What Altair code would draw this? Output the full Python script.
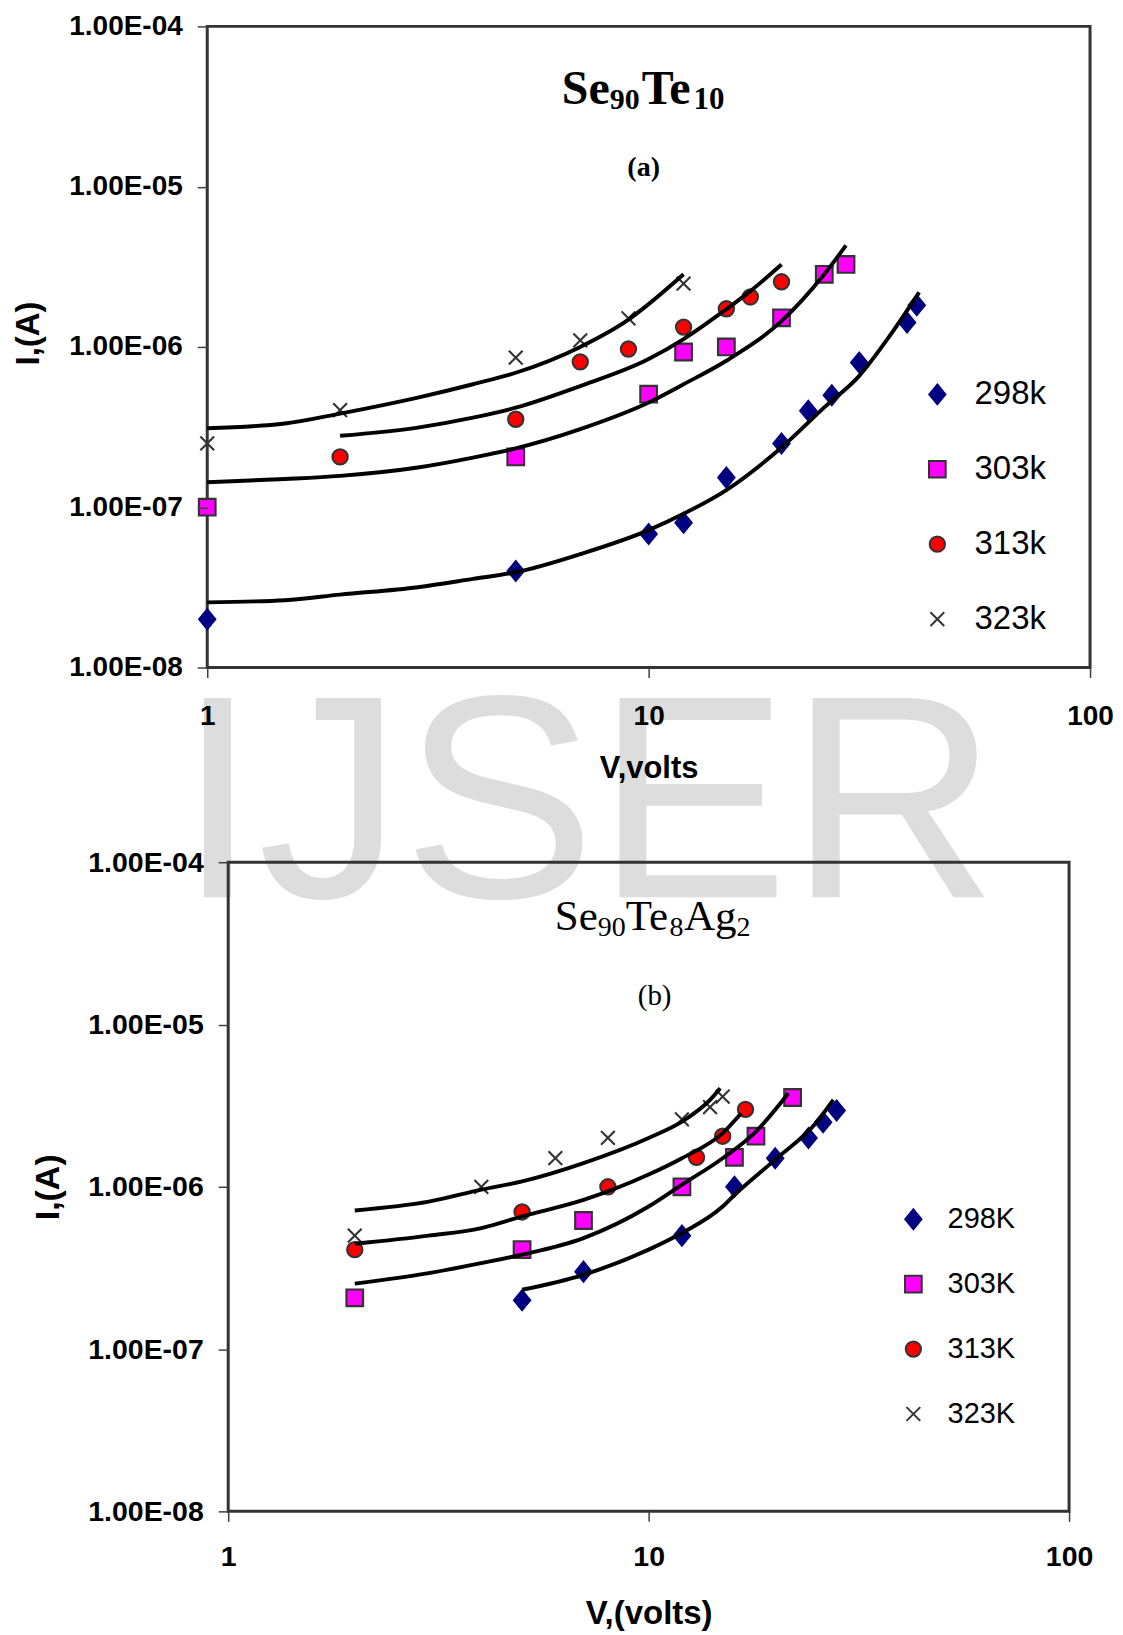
import altair as alt
import pandas as pd

# ---------------- panel (a): Se90Te10 ----------------
A_SERIES = ["298k", "303k", "313k", "323k"]

A_P298_V = [1, 5, 10, 12, 15, 20, 23, 26, 30, 38.5, 40.5]
A_P298_I = [2.0e-8, 4.0e-8, 6.8e-8, 8.0e-8, 1.53e-7, 2.5e-7, 4.0e-7, 5.0e-7, 8.0e-7, 1.42e-6, 1.82e-6]
A_P303_V = [1, 5, 10, 12, 15, 20, 25, 28]
A_P303_I = [1.0e-7, 2.06e-7, 5.07e-7, 9.3e-7, 1.0e-6, 1.52e-6, 2.84e-6, 3.27e-6]
A_P313_V = [2, 5, 7, 9, 12, 15, 17, 20]
A_P313_I = [2.06e-7, 3.54e-7, 8.07e-7, 9.7e-7, 1.33e-6, 1.73e-6, 2.05e-6, 2.55e-6]
A_P323_V = [1, 2, 5, 7, 9, 12]
A_P323_I = [2.5e-7, 4.03e-7, 8.58e-7, 1.1e-6, 1.51e-6, 2.48e-6]

A_L298_V = [1, 1.5, 2, 3, 4, 5, 7, 10, 12, 15, 20, 25, 30, 35, 41]
A_L298_I = [2.55e-8, 2.63e-8, 2.85e-8, 3.17e-8, 3.57e-8, 3.93e-8, 5.1e-8, 7.2e-8, 9.1e-8,
            1.28e-7, 2.36e-7, 4.2e-7, 6.6e-7, 1.15e-6, 2.19e-6]
A_L303_V = [1, 1.5, 2, 3, 4, 5, 7, 10, 12, 15, 20, 25, 28]
A_L303_I = [1.43e-7, 1.5e-7, 1.57e-7, 1.77e-7, 2.04e-7, 2.33e-7, 3.07e-7, 4.5e-7, 5.85e-7,
            8.2e-7, 1.45e-6, 2.84e-6, 4.3e-6]
A_L313_V = [2, 3, 4, 5, 7, 10, 12, 15, 17, 20]
A_L313_I = [2.79e-7, 3.14e-7, 3.62e-7, 4.18e-7, 5.7e-7, 8.4e-7, 1.12e-6, 1.72e-6, 2.23e-6, 3.27e-6]
A_L323_V = [1, 1.5, 2, 3, 4, 5, 7, 9, 10, 12]
A_L323_I = [3.11e-7, 3.33e-7, 3.84e-7, 4.83e-7, 5.85e-7, 6.9e-7, 1.0e-6, 1.48e-6, 1.85e-6, 2.84e-6]

# ---------------- panel (b): Se90Te8Ag2 ----------------
B_SERIES = ["298K", "303K", "313K", "323K"]

B_P298_V = [5, 7, 12, 16, 20, 24, 26, 28]
B_P298_I = [2.0e-7, 3.0e-7, 5.0e-7, 1.0e-6, 1.5e-6, 2.0e-6, 2.5e-6, 2.95e-6]
B_P303_V = [2, 5, 7, 12, 16, 18, 22]
B_P303_I = [2.07e-7, 4.1e-7, 6.2e-7, 1.0e-6, 1.52e-6, 2.05e-6, 3.55e-6]
B_P313_V = [2, 5, 8, 13, 15, 17]
B_P313_I = [4.1e-7, 7.0e-7, 1.0e-6, 1.52e-6, 2.05e-6, 3.0e-6]
B_P323_V = [2, 4, 6, 8, 12, 14, 15]
B_P323_I = [5.0e-7, 1.0e-6, 1.5e-6, 2.0e-6, 2.6e-6, 3.1e-6, 3.6e-6]

B_L298_V = [5, 7, 10, 12, 15, 16, 20, 25, 27.5]
B_L298_I = [2.32e-7, 2.87e-7, 4.1e-7, 5.19e-7, 7.56e-7, 8.9e-7, 1.47e-6, 2.47e-6, 3.43e-6]
B_L303_V = [2, 3, 4, 5, 7, 10, 12, 15, 18, 21.5]
B_L303_I = [2.53e-7, 2.94e-7, 3.39e-7, 3.82e-7, 4.83e-7, 7.56e-7, 1.03e-6, 1.5e-6, 2.19e-6, 3.77e-6]
B_L313_V = [2, 3, 4, 5, 7, 10, 12, 15, 16.6]
B_L313_I = [4.46e-7, 5.0e-7, 5.57e-7, 6.57e-7, 8.3e-7, 1.19e-6, 1.5e-6, 2.14e-6, 2.84e-6]
B_L323_V = [2, 3, 4, 5, 7, 10, 12, 14, 14.8]
B_L323_I = [7.15e-7, 8.1e-7, 9.6e-7, 1.08e-6, 1.4e-6, 2.0e-6, 2.52e-6, 3.43e-6, 4.05e-6]

# axis ticks
X_TICKS = [1, 10, 100]
Y_TICKS = [1e-8, 1e-7, 1e-6, 1e-5, 1e-4]

# marker styles (per series order)
SHAPES = ["M0,-1.1L0.9,0L0,1.1L-0.9,0Z", "square", "circle", "M-1,-1L1,1M-1,1L1,-1"]
FILLS = ["#000080", "#FF00FF", "#FF0000", "transparent"]
STROKES = ["#000080", "#333333", "#333333", "#333333"]
SIZES = [324, 190, 200, 324]

SANS = "Liberation Sans"
SERIF = "Liberation Serif"


def to_frame(names, vlists, ilists):
    rows = []
    for n, vs, cs in zip(names, vlists, ilists):
        rows += [{"series": n, "V": v, "I": c} for v, c in zip(vs, cs)]
    return pd.DataFrame(rows)


def text_piece(text, size, x, y, weight="normal", font=SERIF, color="black", align="left"):
    return alt.Chart(alt.Data(values=[{}])).mark_text(
        text=text, font=font, fontSize=size, fontWeight=weight, color=color,
        align=align, baseline="alphabetic"
    ).encode(x=alt.value(x), y=alt.value(y))


def panel(pts, lines, names, width, height, xcfg, ycfg, legcfg, extra_back, extra_front):
    xaxis = alt.Axis(values=X_TICKS, format="d", labelFlush=False, labelFont=SANS,
                     labelFontWeight="bold", labelFontSize=xcfg["lab"], labelColor="black",
                     labelPadding=xcfg["labpad"], tickSize=10, tickColor="#404040", tickWidth=1.5,
                     domain=False, grid=False, title=xcfg["title"], titleFont=SANS,
                     titleFontSize=xcfg["tit"], titleFontWeight="bold", titleColor="black",
                     titlePadding=xcfg["titpad"], zindex=1)
    ykw = dict(values=Y_TICKS,
               labelExpr="upper(replace(format(datum.value, '.2e'), '-', '-0'))",
               labelFlush=False, labelFont=SANS, labelFontWeight="bold",
               labelFontSize=ycfg["lab"], labelColor="black", labelPadding=15,
               tickSize=10, tickColor="#404040", tickWidth=1.5, domain=False, grid=False,
               title=ycfg["title"], titleFont=SANS, titleFontSize=ycfg["tit"],
               titleFontWeight="bold", titleColor="black", titlePadding=ycfg["titpad"], zindex=1)
    if "titleY" in ycfg:
        ykw["titleY"] = ycfg["titleY"]
    yaxis = alt.Axis(**ykw)

    xs = alt.Scale(type="log", domain=[1, 100], nice=False)
    ys = alt.Scale(type="log", domain=[1e-8, 1e-4], nice=False)

    leg = alt.Legend(title=None, orient="none", legendX=legcfg["x"], legendY=legcfg["y"],
                     labelFont=SANS, labelFontSize=legcfg["font"], labelColor="black",
                     labelOffset=legcfg["laboff"], rowPadding=legcfg["rowpad"], padding=0,
                     symbolStrokeWidth=2, symbolOpacity=1)

    points = alt.Chart(pts).mark_point(filled=True, opacity=1, strokeWidth=2.1).encode(
        x=alt.X("V:Q", scale=xs, axis=xaxis),
        y=alt.Y("I:Q", scale=ys, axis=yaxis),
        shape=alt.Shape("series:N", scale=alt.Scale(domain=names, range=SHAPES), legend=leg),
        fill=alt.Fill("series:N", scale=alt.Scale(domain=names, range=FILLS), legend=leg),
        stroke=alt.Stroke("series:N", scale=alt.Scale(domain=names, range=STROKES), legend=leg),
        size=alt.Size("series:N", scale=alt.Scale(domain=names, range=SIZES), legend=leg),
    )
    curve = alt.Chart(lines).mark_line(color="black", strokeWidth=3.9, interpolate="monotone").encode(
        x=alt.X("V:Q", scale=xs),
        y=alt.Y("I:Q", scale=ys),
        detail="series:N",
    )
    return alt.layer(*extra_back, points, curve, *extra_front).properties(width=width, height=height)


pts_a = to_frame(A_SERIES, [A_P298_V, A_P303_V, A_P313_V, A_P323_V],
                 [A_P298_I, A_P303_I, A_P313_I, A_P323_I])
lines_a = to_frame(A_SERIES, [A_L298_V, A_L303_V, A_L313_V, A_L323_V],
                   [A_L298_I, A_L303_I, A_L313_I, A_L323_I])
pts_b = to_frame(B_SERIES, [B_P298_V, B_P303_V, B_P313_V, B_P323_V],
                 [B_P298_I, B_P303_I, B_P313_I, B_P323_I])
lines_b = to_frame(B_SERIES, [B_L298_V, B_L303_V, B_L313_V, B_L323_V],
                   [B_L298_I, B_L303_I, B_L313_I, B_L323_I])

watermark = text_piece("IJSER", 290, -30, 872, font=SANS, color="#DDDDDD")

top_texts = [
    text_piece("Se", 48, 355, 78, weight="bold"),
    text_piece("90", 30, 403, 83, weight="bold"),
    text_piece("Te", 48, 435, 78, weight="bold"),
    text_piece("10", 31, 487, 83, weight="bold"),
    text_piece("(a)", 28, 437, 150, weight="bold", align="center"),
]
bot_texts = [
    text_piece("Se", 43, 327, 68),
    text_piece("90", 28, 370, 74),
    text_piece("Te", 43, 398, 68),
    text_piece("8", 28, 442, 74),
    text_piece("Ag", 43, 456.5, 68),
    text_piece("2", 28, 509, 74),
    text_piece("(b)", 29, 427, 143, align="center"),
]

top = panel(
    pts_a, lines_a, A_SERIES, 884, 642,
    xcfg=dict(title="V,volts", lab=28, labpad=25, tit=31, titpad=23),
    ycfg=dict(title="I,(A)", lab=28, tit=33, titpad=23.5, titleY=307),
    legcfg=dict(x=714.6, y=352, font=33, laboff=20.7, rowpad=41),
    extra_back=[watermark], extra_front=top_texts,
)
bottom = panel(
    pts_b, lines_b, B_SERIES, 842, 650,
    xcfg=dict(title="V,(volts)", lab=28.5, labpad=21, tit=33, titpad=27),
    ycfg=dict(title="I,(A)", lab=28.5, tit=34, titpad=22),
    legcfg=dict(x=671.6, y=343, font=29, laboff=19.7, rowpad=35),
    extra_back=[], extra_front=bot_texts,
)

chart = alt.vconcat(top, bottom, spacing=195, bounds="flush", center=True).resolve_scale(
    x="independent", y="independent", shape="independent", fill="independent",
    stroke="independent", size="independent"
).resolve_legend(
    shape="independent", fill="independent", stroke="independent", size="independent"
).properties(
    padding={"left": 2.5, "top": 1.3, "right": 0, "bottom": 0}, background="white"
).configure_view(stroke="#333333", strokeWidth=3)

chart.save("out.html", embed_options={"renderer": "svg", "actions": False})
